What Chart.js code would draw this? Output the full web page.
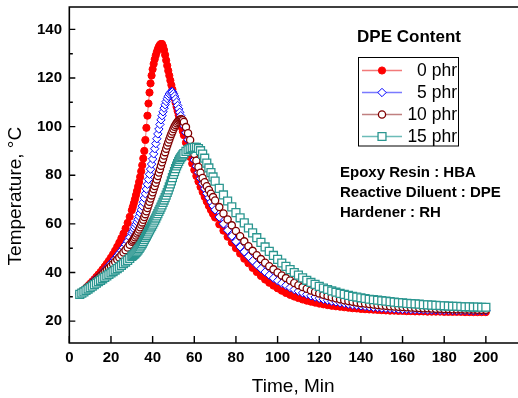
<!DOCTYPE html>
<html>
<head>
<meta charset="utf-8">
<script src="https://cdn.jsdelivr.net/npm/chart.js@4.4.0/dist/chart.umd.min.js"></script>
<style>
  html, body { margin: 0; padding: 0; background: #fff; overflow: hidden; }
  canvas { display: block; }
</style>
</head>
<body>
<canvas id="myChart" width="524" height="398"></canvas>
<script>
// sample times (min)
const minutes = [5,6,7,8,9,10,11,12,13,14,15,16,17,18,19,20,21,22,23,24,25,26,27,28,29,
  30,30.5,31,31.5,32,32.5,33,33.5,34,34.5,35,35.5,36,36.5,37,37.5,38,38.5,39,39.5,
  40,40.5,41,41.5,42,42.5,43,43.5,44,44.5,45,45.5,46,46.5,47,47.5,48,48.5,49,49.5,
  50,50.5,51,51.5,52,52.5,53,53.5,54,54.5,55,
  56,57,58,59,60,61,62,63,64,65,66,67,68,69,70,
  72,74,76,78,80,82,84,86,88,90,92,94,96,98,100,102,104,106,108,110,
  112,114,116,118,120,122,124,126,128,130,132,134,136,138,140,142,144,146,148,150,
  152,154,156,158,160,162,164,166,168,170,172,174,176,178,180,182,184,186,188,190,
  192,194,196,198,200];

// temperature (°C), DPE content 0 phr
const phr0 = [31,31.8,32.7,33.6,34.5,35.4,36.3,37.2,38.2,39.2,40.2,41.3,42.4,43.6,44.8,46.1,47.5,49,50.6,52.3,54.1,56,58.1,60.4,62.9,
  65.6,67,68.5,70.1,71.8,73.5,75.3,77.2,79.3,81.6,84.1,86.9,90,94.5,99.5,104.5,109.5,114,117.8,121,
  123.6,125.8,127.7,129.3,130.7,131.9,132.9,133.6,134,134,133,131.5,129.5,127.3,125.1,123,121,119,117.1,115.3,
  113.5,111.7,109.9,108.1,106.4,104.7,103,101.3,99.7,98.1,96.5,
  93.4,90.4,87.5,84.8,82.2,79.7,77.4,75.2,73.1,71.1,69.2,67.4,65.7,64.1,62.6,
  59.8,57.2,54.7,52.3,50,47.8,45.7,43.8,41.9,40.2,38.6,37.1,35.8,34.6,33.5,32.5,31.6,30.8,30.1,29.5,
  28.9,28.4,28,27.6,27.2,26.9,26.6,26.3,26.1,25.9,25.7,25.5,25.3,25.2,25,24.9,24.8,24.7,24.6,24.5,
  24.4,24.3,24.3,24.2,24.2,24.1,24.1,24,24,24,23.9,23.9,23.9,23.9,23.8,23.8,23.8,23.8,23.8,23.7,
  23.7,23.7,23.7,23.7,23.7];

// 5 phr
const phr5 = [31.5,32.2,32.9,33.6,34.3,35.1,35.9,36.7,37.5,38.3,39.1,40,40.9,41.8,42.7,43.7,44.7,45.7,46.8,47.9,49,50.2,51.5,52.9,54.5,
  56.2,57,57.9,58.8,59.8,60.8,61.9,63.1,64.4,65.8,67.3,68.9,70.6,72.4,74.3,76.3,78.3,80.4,82.5,84.6,
  86.7,88.8,90.9,93,95,97,99,100.9,102.8,104.5,106.1,107.6,109,110.3,111.5,112.5,113.4,114,114.4,114.3,
  113.6,112.6,111.4,110.1,108.7,107.3,105.9,104.5,103.1,101.7,100.3,
  97.5,94.6,91.8,89,86.3,83.7,81.1,78.7,76.5,74.4,72.5,70.7,69,67.4,65.8,
  62.8,60,57.4,55,52.7,50.5,48.5,46.6,44.8,43.1,41.6,40.2,38.9,37.7,36.6,35.6,34.7,33.8,33,32.3,
  31.6,31,30.4,29.9,29.4,29,28.6,28.2,27.9,27.6,27.3,27,26.7,26.5,26.3,26.1,25.9,25.7,25.6,25.4,
  25.3,25.2,25.1,25,24.9,24.9,24.8,24.8,24.7,24.7,24.6,24.6,24.6,24.5,24.5,24.5,24.4,24.4,24.4,24.4,
  24.3,24.3,24.3,24.3,24.3];

// 10 phr
const phr10 = [31.5,32.1,32.7,33.4,34.1,34.8,35.5,36.2,37,37.8,38.6,39.4,40.2,41,41.8,42.6,43.5,44.4,45.3,46.2,47.2,48.2,49.2,50.3,51.4,
  52.6,53.2,53.8,54.5,55.2,56,56.8,57.7,58.6,59.6,60.6,61.7,62.8,64,65.2,66.5,67.8,69.1,70.4,71.7,
  73,74.3,75.6,76.9,78.3,79.7,81.1,82.5,83.9,85.3,86.7,88.1,89.5,90.9,92.2,93.5,94.7,95.9,97,98,
  99,99.9,100.7,101.4,102,102.5,102.8,103,102.9,102.6,101.9,
  99.8,97.3,94.5,91.6,88.7,86,83.4,81,78.9,77.1,75.5,73.9,72.4,71,69.6,
  66.9,64.3,61.8,59.4,57.1,54.9,52.8,50.8,48.9,47.1,45.5,44,42.6,41.3,40,38.8,37.7,36.7,35.7,34.8,
  34,33.3,32.6,32,31.4,30.8,30.3,29.8,29.4,29,28.6,28.3,28,27.7,27.4,27.2,27,26.8,26.6,26.4,
  26.3,26.1,26,25.9,25.8,25.7,25.6,25.5,25.4,25.3,25.3,25.2,25.1,25.1,25,25,24.9,24.9,24.9,24.8,
  24.8,24.8,24.7,24.7,24.7];

// 15 phr
const phr15 = [31,31.5,32,32.6,33.2,33.8,34.4,35,35.6,36.2,36.8,37.4,38,38.6,39.2,39.8,40.4,41,41.6,42.2,42.9,43.6,44.3,45,45.8,
  46.6,47,47.4,47.8,48.3,48.8,49.3,49.9,50.5,51.2,51.9,52.7,53.5,54.3,55.1,55.9,56.7,57.5,58.3,59.1,
  59.9,60.7,61.5,62.4,63.3,64.2,65.1,66,66.9,67.8,68.8,69.8,70.8,71.8,72.9,74,75.2,76.4,77.7,79,
  80.3,81.5,82.7,83.8,84.8,85.7,86.5,87.2,87.8,88.4,88.9,
  89.8,90.5,91,91.3,91.5,91.5,91,90.1,88.7,87,85,83,81.1,79.3,77.6,
  74.6,71.9,69.4,67,64.6,62.5,60.4,58.3,56.3,54.3,52.4,50.5,48.7,47,45.4,43.9,42.5,41.2,40,38.9,
  37.8,36.8,35.9,35.1,34.3,33.6,33,32.4,31.9,31.4,31,30.6,30.2,29.9,29.6,29.3,29,28.8,28.6,28.4,
  28.2,28,27.8,27.6,27.5,27.3,27.2,27.1,27,26.8,26.7,26.6,26.5,26.4,26.3,26.2,26.1,26.1,26,25.9,
  25.9,25.8,25.8,25.7,25.7];

const seriesNames = ['0 phr', '5 phr', '10 phr', '15 phr'];
const xTicks = [0, 20, 40, 60, 80, 100, 120, 140, 160, 180, 200];
const yTicks = [20, 40, 60, 80, 100, 120, 140];
const yMinorTicks = [30, 50, 70, 90, 110, 130];
const noteLines = ['Epoxy Resin : HBA', 'Reactive Diluent : DPE', 'Hardener : RH'];

const FONT = '"Liberation Sans", Arial, Helvetica, sans-serif';
Chart.defaults.font.family = FONT;
Chart.defaults.color = '#000';

function pairs(ys) {
  return minutes.map((t, i) => ({ x: t, y: ys[i] }));
}

// point style, colours for each series
const looks = [
  { style: 'circle',  radius: 3.6, color: '#ff0000', line: '#f27a7a', fill: '#ff0000', bw: 1 },
  { style: 'rectRot', radius: 4.2, color: '#0000ff', line: '#7a7aff', fill: '#ffffff', bw: 1 },
  { style: 'circle',  radius: 3.6, color: '#800000', line: '#c08080', fill: '#ffffff', bw: 1.3 },
  { style: 'rect',    radius: 5.6, color: '#2b9690', line: '#6cbcb8', fill: '#ffffff', bw: 1.3 }
];
const allSeries = [phr0, phr5, phr10, phr15];

const datasets = allSeries.map((ys, i) => ({
  label: seriesNames[i],
  data: pairs(ys),
  showLine: true,
  borderColor: looks[i].line,
  borderWidth: 1,
  pointStyle: looks[i].style,
  pointRadius: looks[i].radius,
  pointBorderColor: looks[i].color,
  pointBackgroundColor: looks[i].fill,
  pointBorderWidth: looks[i].bw,
  order: 4 - i
}));

function marker(ctx, look, x, y) {
  const r = look.radius;
  ctx.beginPath();
  if (look.style === 'circle') {
    ctx.arc(x, y, r, 0, Math.PI * 2);
  } else if (look.style === 'rectRot') {
    ctx.moveTo(x - r, y); ctx.lineTo(x, y - r); ctx.lineTo(x + r, y); ctx.lineTo(x, y + r); ctx.closePath();
  } else {
    const s = Math.SQRT1_2 * r;
    ctx.rect(x - s, y - s, 2 * s, 2 * s);
  }
  ctx.fillStyle = look.fill;
  ctx.fill();
  ctx.lineWidth = look.bw;
  ctx.strokeStyle = look.color;
  ctx.stroke();
}

const framePlugin = {
  id: 'framePlugin',
  afterDraw(chart) {
    const ctx = chart.ctx, a = chart.chartArea;
    const xs = chart.scales.x, ys = chart.scales.y;
    ctx.save();
    // frame: top, left, bottom
    ctx.strokeStyle = '#000';
    ctx.lineWidth = 1.6;
    ctx.beginPath();
    ctx.moveTo(a.right + 10, a.top);
    ctx.lineTo(a.left, a.top);
    ctx.lineTo(a.left, a.bottom);
    ctx.lineTo(a.right + 10, a.bottom);
    ctx.stroke();
    // inward ticks
    ctx.lineWidth = 1.4;
    ctx.beginPath();
    yTicks.forEach(v => { const p = ys.getPixelForValue(v); ctx.moveTo(a.left, p); ctx.lineTo(a.left + 6, p); });
    yMinorTicks.forEach(v => { const p = ys.getPixelForValue(v); ctx.moveTo(a.left, p); ctx.lineTo(a.left + 3.5, p); });
    xTicks.forEach(v => { const p = xs.getPixelForValue(v); ctx.moveTo(p, a.bottom); ctx.lineTo(p, a.bottom - 7); });
    ctx.stroke();

    // legend title
    ctx.fillStyle = '#000';
    ctx.textAlign = 'center';
    ctx.textBaseline = 'alphabetic';
    ctx.font = 'bold 17px ' + FONT;
    ctx.fillText('DPE Content', 409, 42);

    // legend box
    ctx.lineWidth = 1;
    ctx.strokeStyle = '#000';
    ctx.strokeRect(358.5, 57.5, 100, 88.5);
    ctx.font = '17.5px ' + FONT;
    ctx.textAlign = 'right';
    ctx.textBaseline = 'middle';
    chart.data.datasets.forEach((ds, i) => {
      const y = 70.5 + i * 22;
      ctx.strokeStyle = ds.borderColor;
      ctx.lineWidth = 1.5;
      ctx.beginPath();
      ctx.moveTo(362, y); ctx.lineTo(402, y);
      ctx.stroke();
      marker(ctx, looks[i], 382, y);
      ctx.fillStyle = '#000';
      ctx.fillText(ds.label, 457, y + 1);
    });

    // notes
    ctx.textAlign = 'left';
    ctx.textBaseline = 'alphabetic';
    ctx.font = 'bold 15px ' + FONT;
    noteLines.forEach((s, i) => ctx.fillText(s, 340, 177 + i * 20));
    ctx.restore();
  }
};

const ctx = document.getElementById('myChart').getContext('2d');
const myChart = new Chart(ctx, {
  type: 'scatter',
  data: { datasets: datasets },
  options: {
    responsive: false,
    animation: false,
    devicePixelRatio: 1,
    layout: { padding: { top: 7, left: 0, right: 3.6, bottom: 0 } },
    plugins: { legend: { display: false }, tooltip: { enabled: false } },
    scales: {
      x: {
        type: 'linear',
        min: 0,
        max: 215,
        grid: { display: false, drawTicks: false },
        border: { display: false },
        ticks: { stepSize: 20, includeBounds: false, maxRotation: 0, padding: 6,
                 font: { size: 15, weight: 'bold' }, color: '#000' },
        title: { display: true, text: 'Time, Min', font: { size: 19 }, color: '#000',
                 padding: { top: 2.2, bottom: 0 } },
        afterFit(scale) { scale.paddingLeft = 0; scale.paddingRight = 0; }
      },
      y: {
        min: 11,
        max: 149.2,
        grid: { display: false, drawTicks: false },
        border: { display: false },
        ticks: { stepSize: 20, includeBounds: false, padding: 7.3,
                 font: { size: 15, weight: 'bold' }, color: '#000' },
        title: { display: true, text: 'Temperature, °C        ', font: { size: 19 }, color: '#000',
                 padding: { top: 4.6, bottom: 2.3 } },
        afterFit(scale) { scale.paddingTop = 0; scale.paddingBottom = 0; }
      }
    }
  },
  plugins: [framePlugin]
});
</script>
</body>
</html>
